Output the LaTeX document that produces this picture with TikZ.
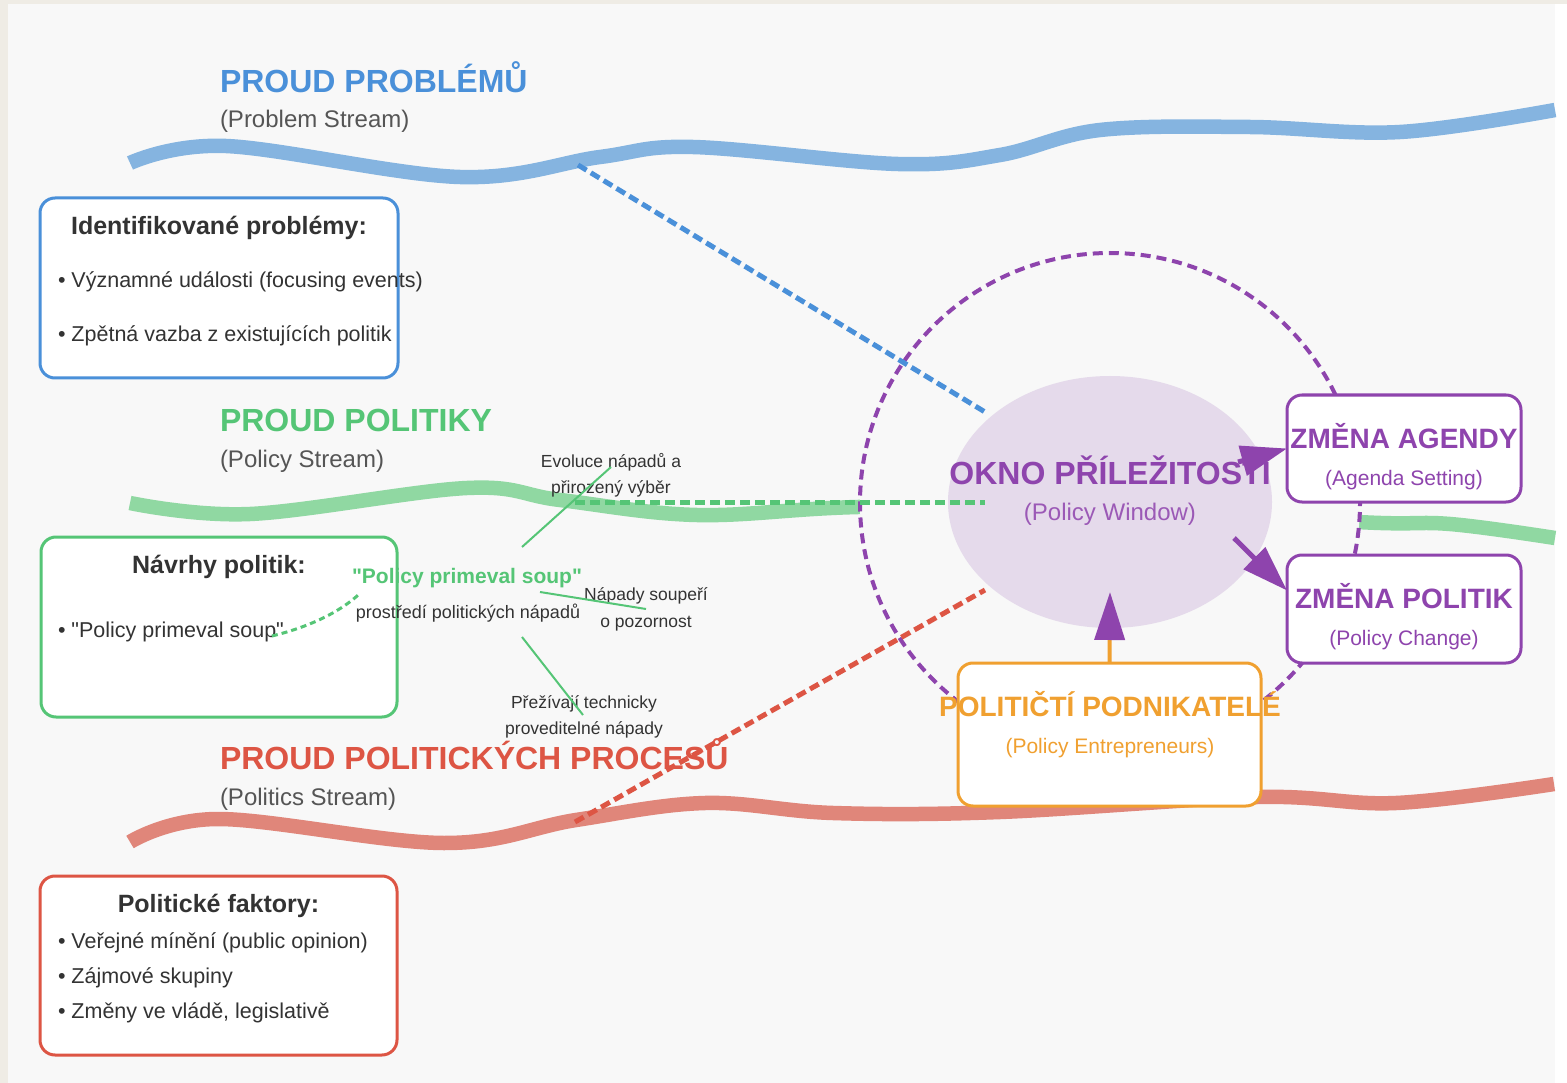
\documentclass[tikz,border=0pt]{standalone}
\usepackage{fontspec}
\setmainfont{Liberation Sans}[Ligatures=TeXOff]
\usetikzlibrary{shapes.geometric,arrows.meta}

\definecolor{bgbeige}{HTML}{EFECE5}
\definecolor{panel}{HTML}{F8F8F8}
\definecolor{probblue}{HTML}{4A90D9}
\definecolor{probwave}{HTML}{85B4E0}
\definecolor{polgreen}{HTML}{55C576}
\definecolor{polwave}{HTML}{90D8A2}
\definecolor{procred}{HTML}{DD5544}
\definecolor{procwave}{HTML}{E0867A}
\definecolor{winpurple}{HTML}{8E44AD}
\definecolor{winlight}{HTML}{9B59B6}
\definecolor{winfill}{HTML}{E5DAEB}
\definecolor{entorange}{HTML}{F0A030}
\definecolor{darktext}{HTML}{333333}
\definecolor{subgray}{HTML}{555555}
\newcommand{\fsz}[1]{\fontsize{#1}{#1}\selectfont}

\begin{document}
\begin{tikzpicture}[x=1pt, y=-1pt, every node/.style={inner sep=0pt, outer sep=0pt},
        wave/.style={line width=14.5pt},
        link/.style={line width=5pt, dash pattern=on 10pt off 5pt},
        box/.style={draw, line width=3pt, rounded corners=15pt, fill=white},
        ttl/.style={anchor=base west, font=\fsz{32}\bfseries},
        sub/.style={anchor=base west, text=subgray, font=\fsz{24}},
        hd/.style={anchor=base, text=darktext, font=\fsz{25}\bfseries},
        item/.style={anchor=base west, text=darktext, font=\fsz{21.5}},
        lbl/.style={anchor=base, text=darktext, font=\fsz{17.5}},
        twig/.style={line width=2pt, draw=polgreen},
        big/.style={anchor=base, font=\fsz{28}\bfseries},
        small/.style={anchor=base, font=\fsz{21}},
        arr/.style={line width=5pt, draw=winpurple, -{Triangle[length=46pt,width=30pt]}}]
        \useasboundingbox (0,0) rectangle (1567,1083);
        \fill[bgbeige] (0,0) rectangle (1567,1083);
        \fill[panel] (8,4) rectangle (1555,1083);
        \fill[white] (1555,4) rectangle (1567,1083);

        \node[ttl, text=probblue] (pt) at (220,93) {PROUD PROBLÉMŮ};
        \node[sub] (ps) at (220,128) {(Problem Stream)};
        \node[ttl, text=polgreen] (lt) at (220,431) {PROUD POLITIKY};
        \node[sub] (ls) at (220,467) {(Policy Stream)};
        \node[ttl, text=procred] (rt) at (220,769) {PROUD POLITICKÝCH PROCESŮ};
        \node[sub] (rs) at (220,805) {(Politics Stream)};

        \draw[wave, draw=probwave] plot[smooth, tension=0.6] coordinates {(130,163) (226,146) (460,177) (600,157) (693,147) (898,164) (1000,155) (1100,130) (1250,127) (1400,132) (1555,110)};
        \draw[wave, draw=polwave] plot[smooth, tension=0.6] coordinates {(130,503) (250,514) (467,488) (560,500) (697,515) (858,507) (1100,505) (1358,522) (1450,524) (1555,538)};
        \draw[wave, draw=procwave] plot[smooth, tension=0.6] coordinates {(130,842) (219,819) (444,843) (576,820) (705,803) (833,813) (1000,812) (1257,797) (1396,803) (1554,784)};

        \node[circle, draw=winpurple, fill=panel, line width=4pt, dash pattern=on 10pt off 6pt, minimum size=500pt] (ring) at (1110,503) {};
        \node[ellipse, fill=winfill, minimum width=324pt, minimum height=252pt] (win) at (1110,502) {};

        \coordinate (pw) at (578,165);
        \coordinate (lw) at (575,502);
        \coordinate (rw) at (575,822);
        \coordinate (wp) at (985,412);
        \coordinate (wl) at (985,502);
        \coordinate (wr) at (985,590);
        \draw[link, draw=probblue] (pw) -- (wp);
        \draw[link, draw=polgreen] (lw) -- (wl);
        \draw[link, draw=procred] (rw) -- (wr);

        \node[box, draw=probblue, minimum width=358pt, minimum height=180pt] (pbox) at (219,288) {};
        \node[hd] (pboxt) at (219,235) {Identifikované problémy:};
        \node[item] (pb1) at (58,288) {• Významné události (focusing events)};
        \node[item] (pb2) at (58,342) {• Zpětná vazba z existujících politik};

        \node[box, draw=polgreen, minimum width=356pt, minimum height=180pt] (lbox) at (219,627) {};
        \node[hd] (lboxt) at (219,573) {Návrhy politik:};
        \node[item] (soupb) at (58,637) {• "Policy primeval soup"};

        \node[box, draw=procred, minimum width=357pt, minimum height=179pt] (rbox) at (218.5,965.5) {};
        \node[hd] (rboxt) at (218.5,912) {Politické faktory:};
        \node[item] (rb1) at (58,948) {• Veřejné mínění (public opinion)};
        \node[item] (rb2) at (58,983) {• Zájmové skupiny};
        \node[item] (rb3) at (58,1018) {• Změny ve vládě, legislativě};

        \node[anchor=base, text=polgreen, font=\fsz{21}\bfseries] (soup) at (467,583) {"Policy primeval soup"};
        \node[anchor=base, text=darktext, font=\fsz{18}] (soupd) at (468,618) {prostředí politických nápadů};
        \draw[line width=3pt, draw=polgreen, dash pattern=on 6pt off 4pt] ([shift={(-12,-1)}]soupb.base east) .. controls (305,628) and (338,614) .. ([shift={(8,6)}]soup.south west);

        \node[lbl] (evo) at (611,467) {Evoluce nápadů a};
        \node[lbl] (evo2) at (611,493) {přirozený výběr};
        \node[lbl] (nap) at (646,600) {Nápady soupeří};
        \node[lbl] (nap2) at (646,627) {o pozornost};
        \node[lbl] (pre) at (584,708) {Přežívají technicky};
        \node[lbl] (pre2) at (584,734) {proveditelné nápady};
        \coordinate (t1) at (522,547);
        \coordinate (t2) at (540,592);
        \coordinate (t3) at (522,637);
        \draw[twig] (t1) -- (evo.base);
        \draw[twig] (t2) -- ([shift={(0,9)}]nap.base);
        \draw[twig] (t3) -- ([shift={(-1,7)}]pre.base);

        \node[anchor=base, text=winpurple, font=\fsz{32}\bfseries] (wt) at (1110,484) {OKNO PŘÍLEŽITOSTI};
        \node[anchor=base, text=winlight, font=\fsz{24}] (ws) at (1110,520) {(Policy Window)};

        \node[box, draw=winpurple, minimum width=234pt, minimum height=107pt] (agenda) at (1404,448.5) {};
        \node[big, text=winpurple] (agt) at (1404,448) {ZMĚNA AGENDY};
        \node[small, text=winpurple] (ags) at (1404,485) {(Agenda Setting)};
        \node[box, draw=winpurple, minimum width=234pt, minimum height=108pt] (chg) at (1404,609) {};
        \node[big, text=winpurple] (chgt) at (1404,608) {ZMĚNA POLITIK};
        \node[small, text=winpurple] (chgs) at (1404,645) {(Policy Change)};
        \node[box, draw=entorange, minimum width=303pt, minimum height=143pt] (ent) at (1109.5,734.5) {};
        \node[big, text=entorange] (entt) at (1110,716) {POLITIČTÍ PODNIKATELÉ};
        \node[small, text=entorange] (ents) at (1110,753) {(Policy Entrepreneurs)};

        \coordinate (wa) at (1238,462);
        \coordinate (wb) at (1234,538);
        \coordinate (wc) at (1110,592);
        \draw[arr] (wa) -- (agenda.west);
        \draw[arr] (wb) -- (chg.171);
        \draw[line width=4pt, draw=entorange, -{Triangle[length=48pt,width=30pt,color=winpurple]}] (ent.north) -- (wc);
    \end{tikzpicture}
\end{document}
